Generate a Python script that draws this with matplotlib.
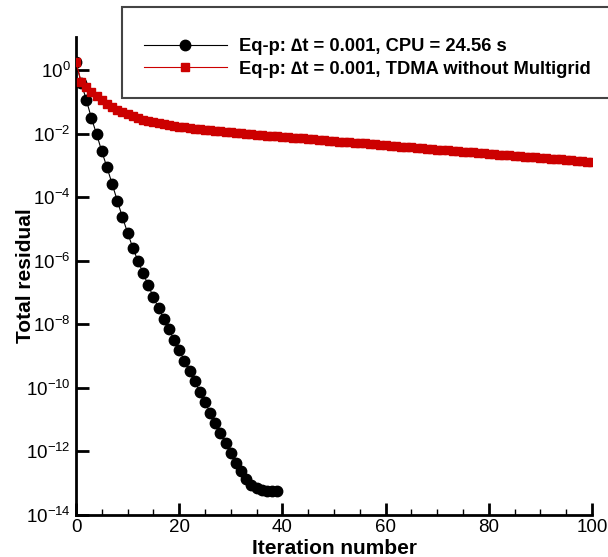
import numpy as np
import matplotlib
matplotlib.use("Agg")
import matplotlib.pyplot as plt
from matplotlib.ticker import FixedLocator, MultipleLocator, FuncFormatter
from matplotlib.patches import Rectangle

plt.rcParams['font.family'] = ['Liberation Sans', 'DejaVu Sans']
plt.rcParams['mathtext.default'] = 'regular'

# Multigrid run (black circles): iteration and log10(total residual)
black_iter = list(range(0, 40))
black_log10 = [0.25, -0.40, -0.94, -1.52, -2.02, -2.56, -3.06, -3.58, -4.11, -4.63,
               -5.12, -5.59, -6.00, -6.39, -6.77, -7.15, -7.49, -7.82, -8.15, -8.49,
               -8.81, -9.14, -9.47, -9.79, -10.12, -10.45, -10.78, -11.09, -11.42, -11.74,
               -12.04, -12.35, -12.62, -12.87, -13.05, -13.15, -13.21, -13.23, -13.23, -13.23]

# TDMA without multigrid (red squares)
red_iter = list(range(0, 101))
red_log10 = [0.25, -0.37, -0.52, -0.68, -0.82, -0.95, -1.06, -1.16, -1.25, -1.32,
             -1.39, -1.45, -1.51, -1.56, -1.60, -1.64, -1.67, -1.70, -1.73, -1.76,
             -1.78, -1.80, -1.82, -1.84, -1.86, -1.88, -1.89, -1.91, -1.93, -1.94,
             -1.96, -1.97, -1.99, -2.00, -2.02, -2.03, -2.05, -2.06, -2.07, -2.09,
             -2.10, -2.11, -2.13, -2.14, -2.15, -2.17, -2.18, -2.19, -2.21, -2.22,
             -2.23, -2.25, -2.26, -2.27, -2.29, -2.30, -2.31, -2.33, -2.34, -2.35,
             -2.37, -2.38, -2.39, -2.41, -2.42, -2.43, -2.45, -2.46, -2.47, -2.49,
             -2.50, -2.51, -2.53, -2.54, -2.55, -2.57, -2.58, -2.59, -2.60, -2.62,
             -2.63, -2.64, -2.66, -2.67, -2.68, -2.70, -2.71, -2.72, -2.74, -2.75,
             -2.76, -2.78, -2.79, -2.80, -2.81, -2.83, -2.84, -2.85, -2.87, -2.88,
             -2.89]

label_black = "Eq-p: \u2206t = 0.001, CPU = 24.56 s"
label_red = "Eq-p: \u2206t = 0.001, TDMA without Multigrid"
xlabel = "Iteration number"
ylabel = "Total residual"
xticks = [0, 20, 40, 60, 80, 100]
yticks_exp = [0, -2, -4, -6, -8, -10, -12, -14]

W, H = 608, 557
fig = plt.figure(figsize=(W / 100, H / 100), dpi=100)
ax = fig.add_axes([76 / W, 1 - 515 / H, (592 - 76) / W, (515 - 37) / H])

red = '#CC0000'
lb, = ax.plot(black_iter, 10.0 ** np.array(black_log10), color='black', lw=0.8,
              marker='o', ms=7.5, mfc='black', mec='black', zorder=3)
lr, = ax.plot(red_iter, 10.0 ** np.array(red_log10), color=red, lw=0.8,
              marker='s', ms=5.2, mfc=red, mec=red, zorder=4)

ax.set_yscale('log')
ax.set_xlim(0, 100)
ax.set_ylim(1e-14, 10 ** 1.04)

for s in ['top', 'right']:
    ax.spines[s].set_visible(False)
for s in ['left', 'bottom']:
    ax.spines[s].set_linewidth(2.0)

ax.xaxis.set_major_locator(FixedLocator(xticks))
ax.xaxis.set_minor_locator(MultipleLocator(5))
ax.yaxis.set_major_locator(FixedLocator([10.0 ** e for e in yticks_exp]))
ax.yaxis.set_minor_locator(FixedLocator([]))
ax.yaxis.set_major_formatter(FuncFormatter(lambda v, p: r'$10^{%d}$' % int(round(np.log10(v)))))

ax.tick_params(which='major', direction='in', length=9, width=2, labelsize=13.5, pad=4)
ax.tick_params(which='minor', direction='in', length=4.5, width=1)
ax.tick_params(axis='x', which='major', pad=3)

ax.set_xlabel(xlabel, fontsize=15, fontweight='bold', labelpad=2)
ax.set_ylabel(ylabel, fontsize=15, fontweight='bold', labelpad=-7)

# legend box (extends beyond the right edge)
rect = Rectangle((122 / W, 1 - 98 / H), (640 - 122) / W, (98 - 7) / H,
                 transform=fig.transFigure, facecolor='white', edgecolor='#444444',
                 lw=1.5, zorder=4)
fig.patches.append(rect)

leg = fig.legend([lb, lr], [label_black, label_red], loc='upper left',
                 bbox_to_anchor=(144 / W, 1 - 38 / H), frameon=False,
                 prop={'weight': 'bold', 'size': 13.2}, handlelength=4.5,
                 handletextpad=0.7, labelspacing=0.3, borderpad=0, borderaxespad=0,
                 numpoints=1, markerscale=1.0)
leg.set_zorder(6)

fig.savefig('out.png', dpi=100)
